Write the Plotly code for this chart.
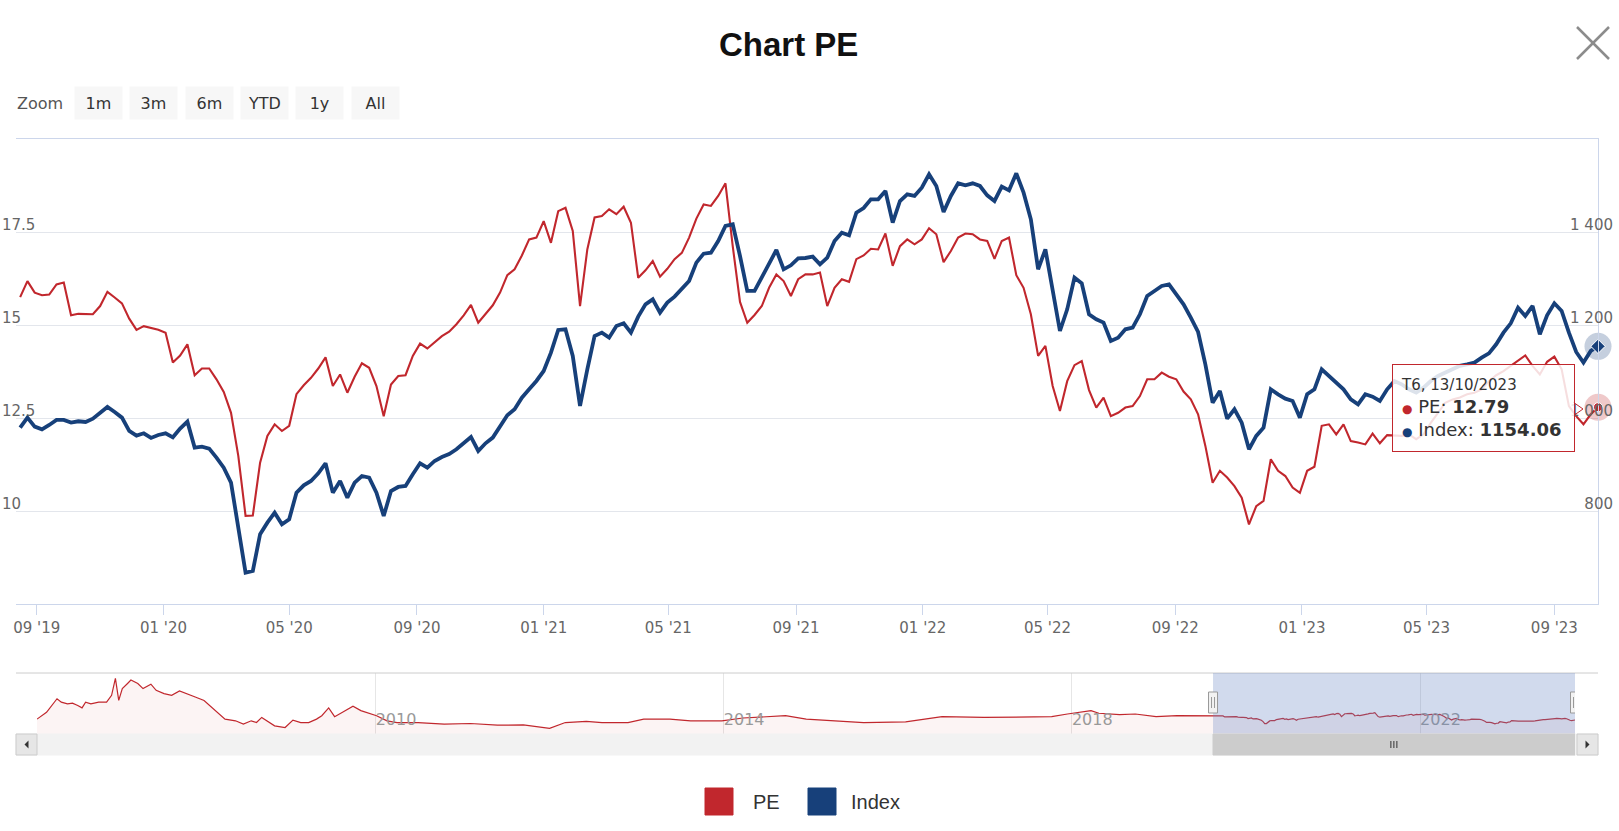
import pandas as pd
import plotly.graph_objects as go

W, H = 1619, 831

# ---------------- data ----------------
last_date = "2023-10-13"
n_weeks = 218
view_start = "2019-08-12"

pe_values = [
    15.75, 16.18, 15.87, 15.80, 15.82, 16.09, 16.14, 15.26, 15.30, 15.30,
    15.29, 15.51, 15.89, 15.74, 15.58, 15.17, 14.87, 14.97, 14.93, 14.87,
    14.79, 13.99, 14.18, 14.48, 13.65, 13.83, 13.83, 13.54, 13.20, 12.64,
    11.48, 9.87, 9.88, 11.30, 12.02, 12.33, 12.15, 12.29, 13.14, 13.38,
    13.58, 13.83, 14.13, 13.36, 13.67, 13.18, 13.61, 13.97, 13.85, 13.36,
    12.55, 13.40, 13.63, 13.65, 14.17, 14.50, 14.37, 14.54, 14.70, 14.82,
    15.02, 15.26, 15.54, 15.06, 15.31, 15.53, 15.87, 16.34, 16.50, 16.87,
    17.30, 17.35, 17.79, 17.21, 18.06, 18.15, 17.53, 15.51, 17.03, 17.89,
    17.93, 18.11, 17.98, 18.18, 17.75, 16.27, 16.47, 16.72, 16.30, 16.51,
    16.77, 16.94, 17.35, 17.86, 18.24, 18.20, 18.47, 18.81, 17.12, 15.62,
    15.06, 15.27, 15.51, 16.00, 16.36, 16.18, 15.78, 16.23, 16.36, 16.36,
    16.41, 15.51, 16.00, 16.23, 16.16, 16.77, 16.87, 17.05, 17.03, 17.46,
    16.59, 17.12, 17.30, 17.17, 17.30, 17.60, 17.44, 16.69, 16.99, 17.35,
    17.46, 17.44, 17.30, 17.26, 16.78, 17.26, 17.35, 16.34, 16.00, 15.29,
    14.17, 14.44, 13.36, 12.69, 13.49, 13.92, 14.03, 13.25, 12.78, 13.05,
    12.55, 12.64, 12.78, 12.82, 13.09, 13.54, 13.54, 13.72, 13.61, 13.54,
    13.21, 13.00, 12.60, 11.75, 10.76, 11.08, 10.90, 10.67, 10.36, 9.64,
    10.13, 10.27, 11.39, 11.08, 10.94, 10.63, 10.49, 11.08, 11.19, 12.29,
    12.33, 12.06, 12.33, 11.88, 11.84, 11.79, 12.08, 11.82, 12.04, 12.04,
    12.02, 12.06, 11.93, 12.06, 12.37, 12.64, 12.91, 13.00, 13.05, 13.14,
    13.18, 13.27, 13.49, 13.65, 13.76, 13.90, 14.05, 14.18, 13.90, 13.67,
    14.01, 14.15, 13.81, 12.82, 12.55, 12.33, 12.60, 12.79,
]

index_values = [
    979.3, 1000.8, 981.4, 975.7, 985.0, 995.8, 995.8, 990.0, 993.0, 991.5,
    998.6, 1010.0, 1023.7, 1013.0, 1000.8, 972.1, 962.1, 967.1, 957.1, 963.5,
    967.1, 958.5, 977.1, 992.2, 936.3, 938.4, 934.1, 914.8, 893.3, 861.0,
    760.7, 667.5, 671.0, 750.0, 775.0, 796.5, 771.4, 782.2, 839.5, 855.3,
    864.6, 881.1, 902.6, 839.5, 864.6, 828.7, 861.0, 875.3, 871.8, 839.5,
    789.3, 843.1, 851.7, 853.8, 878.9, 902.6, 893.3, 907.6, 916.2, 922.6,
    932.7, 944.9, 959.2, 929.1, 945.6, 957.8, 982.9, 1005.8, 1018.7, 1043.8,
    1061.7, 1079.6, 1101.1, 1140.5, 1189.3, 1190.7, 1133.4, 1025.9, 1104.7, 1176.4,
    1183.6, 1172.8, 1197.9, 1203.6, 1183.6, 1218.0, 1244.5, 1255.2, 1226.6, 1248.1,
    1261.0, 1276.7, 1294.7, 1334.1, 1353.4, 1355.6, 1380.7, 1413.0, 1416.5, 1348.4,
    1273.2, 1273.2, 1301.8, 1330.5, 1361.3, 1319.8, 1328.4, 1343.4, 1344.1, 1347.0,
    1330.5, 1344.8, 1380.7, 1398.6, 1392.9, 1441.6, 1451.6, 1470.3, 1470.3, 1488.2,
    1420.1, 1466.7, 1481.0, 1477.5, 1495.4, 1524.0, 1499.0, 1443.0, 1477.5, 1504.7,
    1500.4, 1504.7, 1499.0, 1478.9, 1466.7, 1497.5, 1489.6, 1526.2, 1484.6, 1427.3,
    1319.8, 1362.8, 1269.6, 1187.1, 1233.7, 1301.8, 1289.6, 1223.0, 1212.2, 1205.1,
    1165.6, 1172.8, 1190.7, 1194.3, 1223.0, 1262.4, 1273.2, 1283.9, 1287.5, 1266.0,
    1244.5, 1215.8, 1185.0, 1115.5, 1033.0, 1058.1, 998.6, 1018.7, 990.0, 932.7,
    961.4, 979.3, 1061.7, 1051.0, 1041.6, 1036.6, 1000.8, 1051.0, 1061.7, 1104.7,
    1090.4, 1074.6, 1061.7, 1040.2, 1029.4, 1051.0, 1045.9, 1036.6, 1061.7, 1079.6,
    1072.5, 1061.7, 1054.5, 1065.3, 1079.6, 1090.4, 1097.8, 1104.7, 1112.3, 1115.5,
    1119.1, 1129.8, 1139.1, 1158.5, 1183.6, 1203.6, 1237.3, 1219.4, 1240.9, 1180.0,
    1220.8, 1246.7, 1230.2, 1183.6, 1142.0, 1119.1, 1144.1, 1154.06,
]

# long PE history shown only in the navigator (before the selected window)
nav_hist_dates = [
    "2006-02-10", "2006-03-22", "2006-05-05", "2006-05-23", "2006-06-18", "2006-07-09",
    "2006-07-31", "2006-08-18", "2006-09-02", "2006-09-24", "2006-10-27", "2006-11-29",
    "2006-12-20", "2007-01-05", "2007-01-19", "2007-02-03", "2007-02-25", "2007-03-11",
    "2007-04-09", "2007-05-01", "2007-06-03", "2007-06-25", "2007-07-28", "2007-08-29",
    "2007-10-01", "2007-11-03", "2007-12-06", "2008-01-12", "2008-02-14", "2008-03-18",
    "2008-04-09", "2008-05-23", "2008-06-25", "2008-07-28", "2008-08-19", "2008-09-10",
    "2008-10-01", "2008-11-03", "2008-12-17", "2009-01-19", "2009-02-21", "2009-03-26",
    "2009-04-28", "2009-05-20", "2009-06-18", "2009-07-13", "2009-08-15", "2009-09-28",
    "2009-10-31", "2009-11-22", "2010-01-05", "2010-02-18", "2010-04-01", "2010-06-28",
    "2010-10-16", "2011-02-03", "2011-05-27", "2011-09-13", "2012-01-01", "2012-03-07",
    "2012-06-03", "2012-08-08", "2012-11-25", "2013-01-30", "2013-05-20", "2013-08-15",
    "2013-12-24", "2014-03-22", "2014-05-30", "2014-09-17", "2014-12-13", "2015-02-13",
    "2015-03-28", "2015-08-11", "2016-02-03", "2016-07-05", "2016-12-28", "2017-05-30",
    "2017-10-08", "2017-12-13", "2018-01-26", "2018-03-22", "2018-04-24", "2018-06-07",
    "2018-07-20", "2018-09-24", "2018-12-20", "2019-03-18", "2019-06-14",
]
nav_hist_pe = [
    13.5, 19.1, 30.2, 27.4, 26.0, 26.6,
    24.6, 22.7, 27.4, 26.0, 27.4, 27.4,
    33.0, 46.9, 28.8, 38.5, 42.7, 45.5,
    42.7, 38.5, 42.1, 37.1, 34.4, 33.0,
    36.6, 33.8, 31.6, 28.8, 23.2, 17.7,
    13.5, 12.1, 9.4, 12.1, 10.7, 14.9,
    12.1, 8.0, 6.6, 12.7, 10.7, 10.7,
    13.5, 16.3, 22.7, 15.5, 19.1, 24.1,
    20.5, 19.1, 16.3, 12.1, 10.7, 10.7,
    9.4, 9.9, 8.5, 8.8, 6.0, 10.7,
    11.6, 10.7, 10.7, 13.5, 13.5, 12.1,
    12.1, 14.4, 14.9, 16.3, 13.5, 12.7,
    12.1, 10.7, 11.3, 15.5, 14.9, 14.9,
    15.5, 17.7, 19.1, 20.5, 18.3, 17.7,
    17.1, 17.7, 15.5, 16.3, 16.3,
]

pe_ticks = [10, 12.5, 15, 17.5]
index_ticks = [800, 1000, 1200, 1400]
zoom_buttons = ["1m", "3m", "6m", "YTD", "1y", "All"]
series_names = ["PE", "Index"]

RED = "#c1272d"
BLUE = "#17407a"

dates = pd.date_range(end=last_date, periods=n_weeks, freq="7D")
date_str = [d.strftime("%Y-%m-%d") for d in dates]
nav_dates = nav_hist_dates + date_str
nav_pe = nav_hist_pe + pe_values
mid_date = (dates[0] + (dates[-1] - dates[0]) / 2).strftime("%Y-%m-%d")


def X(p):
    return p / W


def Y(p):
    return 1 - p / H


TICK_FONT = dict(family="DejaVu Sans", size=15, color="#666666")

fig = go.Figure()

fig.add_trace(go.Scatter(
    x=dates, y=pe_values, name=series_names[0], mode="lines",
    line=dict(color=RED, width=2.1), xaxis="x", yaxis="y", showlegend=False,
))
fig.add_trace(go.Scatter(
    x=dates, y=index_values, name=series_names[1], mode="lines",
    line=dict(color=BLUE, width=3.8), xaxis="x", yaxis="y2", showlegend=False,
))
# hover halos on the last point
fig.add_trace(go.Scatter(
    x=[dates[-1]], y=[pe_values[-1]], mode="markers", xaxis="x", yaxis="y",
    marker=dict(size=27, color="rgba(193,39,45,0.25)"), cliponaxis=False,
    showlegend=False,
))
fig.add_trace(go.Scatter(
    x=[dates[-1]], y=[pe_values[-1]], mode="markers", xaxis="x", yaxis="y",
    marker=dict(size=9, color=RED, line=dict(color="white", width=1)),
    cliponaxis=False, showlegend=False,
))
fig.add_trace(go.Scatter(
    x=[dates[-1]], y=[index_values[-1]], mode="markers", xaxis="x", yaxis="y2",
    marker=dict(size=27, color="rgba(23,64,122,0.25)"), cliponaxis=False,
    showlegend=False,
))
fig.add_trace(go.Scatter(
    x=[dates[-1]], y=[index_values[-1]], mode="markers", xaxis="x", yaxis="y2",
    marker=dict(size=11, symbol="diamond", color=BLUE, line=dict(color="white", width=1)),
    cliponaxis=False, showlegend=False,
))
# navigator series
fig.add_trace(go.Scatter(
    x=nav_dates, y=nav_pe, mode="lines", xaxis="x2", yaxis="y3",
    line=dict(color=RED, width=1.2), fill="tozeroy",
    fillcolor="rgba(193,39,45,0.05)", showlegend=False,
))

shapes = []
# navigator outline
shapes.append(dict(type="line", xref="paper", yref="paper", x0=X(16), x1=X(1598),
                   y0=Y(673), y1=Y(673), line=dict(color="#cccccc", width=1)))
# navigator mask over selected range
shapes.append(dict(type="rect", xref="x2", yref="paper", x0=dates[0], x1=dates[-1],
                   y0=Y(734), y1=Y(673), fillcolor="rgba(102,133,194,0.3)",
                   line=dict(width=0), layer="above"))
# scrollbar track
shapes.append(dict(type="rect", xref="paper", yref="paper", x0=X(16), x1=X(1598),
                   y0=Y(755), y1=Y(734), fillcolor="#f2f2f2",
                   line=dict(color="#f2f2f2", width=1)))
# scrollbar thumb
shapes.append(dict(type="rect", xref="x2", yref="paper", x0=dates[0], x1=dates[-1],
                   y0=Y(755), y1=Y(734), fillcolor="#cccccc",
                   line=dict(color="#cccccc", width=1)))
# scrollbar buttons
for a, b in [(16, 37), (1577, 1598)]:
    shapes.append(dict(type="rect", xref="paper", yref="paper", x0=X(a), x1=X(b),
                       y0=Y(755), y1=Y(734), fillcolor="#e6e6e6",
                       line=dict(color="#cccccc", width=1)))
shapes.append(dict(type="path", xref="paper", yref="paper",
                   path=f"M {X(28.5)} {Y(740.5)} L {X(28.5)} {Y(748.5)} L {X(24.5)} {Y(744.5)} Z",
                   fillcolor="#333333", line=dict(width=0)))
shapes.append(dict(type="path", xref="paper", yref="paper",
                   path=f"M {X(1585.5)} {Y(740.5)} L {X(1585.5)} {Y(748.5)} L {X(1589.5)} {Y(744.5)} Z",
                   fillcolor="#333333", line=dict(width=0)))
# scrollbar rifles
for off in (-3, 0, 3):
    shapes.append(dict(type="line", xref="x2", yref="paper", xsizemode="pixel",
                       xanchor=mid_date, x0=off, x1=off, y0=Y(748), y1=Y(741),
                       line=dict(color="#333333", width=1)))
# navigator handles
for d in (dates[0], dates[-1]):
    ds = d.strftime("%Y-%m-%d")
    shapes.append(dict(type="rect", xref="x2", yref="paper", xsizemode="pixel",
                       xanchor=ds, x0=-4.5, x1=4.5, y0=Y(713), y1=Y(692),
                       fillcolor="#f2f2f2", line=dict(color="#999999", width=1),
                       layer="above"))
    for off in (-1.5, 1.5):
        shapes.append(dict(type="line", xref="x2", yref="paper", xsizemode="pixel",
                           xanchor=ds, x0=off, x1=off, y0=Y(708), y1=Y(697),
                           line=dict(color="#999999", width=1), layer="above"))
# close "X"
shapes.append(dict(type="line", xref="paper", yref="paper", x0=X(1577), x1=X(1609),
                   y0=Y(27), y1=Y(59), line=dict(color="#8c8c8c", width=2.5)))
shapes.append(dict(type="line", xref="paper", yref="paper", x0=X(1609), x1=X(1577),
                   y0=Y(27), y1=Y(59), line=dict(color="#8c8c8c", width=2.5)))
# tooltip pointer
shapes.append(dict(type="path", xref="paper", yref="paper",
                   path=f"M {X(1573)} {Y(402)} L {X(1583)} {Y(409)} L {X(1573)} {Y(416)}",
                   fillcolor="rgba(255,255,255,0.0)", line=dict(color=RED, width=1),
                   layer="above"))
# legend swatches
for (a, b), col in zip([(705, 733), (808, 836)], [RED, BLUE]):
    shapes.append(dict(type="rect", xref="paper", yref="paper", x0=X(a), x1=X(b),
                       y0=Y(815), y1=Y(788), fillcolor=col, line=dict(color=col, width=1)))

annotations = []
annotations.append(dict(text="<b>Chart PE</b>", xref="paper", yref="paper",
                        x=X(788), y=Y(45), xanchor="center", yanchor="middle",
                        showarrow=False,
                        font=dict(family="Liberation Sans", size=33, color="#111111")))
annotations.append(dict(text="Zoom", xref="paper", yref="paper", x=X(15), y=Y(103),
                        xanchor="left", yanchor="middle", showarrow=False,
                        font=dict(family="DejaVu Sans", size=16, color="#555555")))
btn_centers = [98, 153.5, 209, 264, 319.5, 375.5]
for lbl, cx in zip(zoom_buttons, btn_centers):
    annotations.append(dict(text=lbl, xref="paper", yref="paper", x=X(cx), y=Y(103),
                            xanchor="center", yanchor="middle", showarrow=False,
                            width=47, height=32, borderpad=0, bgcolor="#f7f7f7",
                            font=dict(family="DejaVu Sans", size=16, color="#333333")))
# legend labels
annotations.append(dict(text=series_names[0], xref="paper", yref="paper", x=X(751), y=Y(802),
                        xanchor="left", yanchor="middle", showarrow=False,
                        font=dict(family="Liberation Sans", size=20, color="#333333")))
annotations.append(dict(text=series_names[1], xref="paper", yref="paper", x=X(849), y=Y(802),
                        xanchor="left", yanchor="middle", showarrow=False,
                        font=dict(family="Liberation Sans", size=20, color="#333333")))
# tooltip
last = dates[-1]
tip = (f"<span style='font-size:15px'>T{last.weekday() + 2}, {last.strftime('%d/%m/%Y')}</span><br>"
       f"<span style='color:{RED};font-size:12px'>●</span> {series_names[0]}: <b>{pe_values[-1]:.2f}</b><br>"
       f"<span style='color:{BLUE};font-size:12px'>●</span> {series_names[1]}: <b>{index_values[-1]:.2f}</b>")
annotations.append(dict(text=tip, xref="paper", yref="paper", x=X(1392), y=Y(364),
                        xanchor="left", yanchor="top", showarrow=False, align="left",
                        width=165, height=70, borderpad=8, borderwidth=1,
                        bordercolor=RED, bgcolor="rgba(255,255,255,0.85)",
                        font=dict(family="DejaVu Sans", size=18, color="#333333")))

fig.update_layout(
    template="none",
    width=W, height=H, autosize=False,
    margin=dict(l=0, r=0, t=0, b=0, pad=0),
    paper_bgcolor="white", plot_bgcolor="white",
    separators=". ",
    hovermode=False,
    showlegend=False,
    xaxis=dict(
        domain=[X(16), X(1598)], anchor="y", type="date",
        range=[view_start, last_date],
        tickformat="%m '%y", dtick="M4", tick0="2019-09-01",
        ticks="outside", ticklen=10, tickcolor="#ccd6eb", tickwidth=1,
        showline=True, linecolor="#ccd6eb", linewidth=1, mirror=True,
        showgrid=False, zeroline=False, tickfont=TICK_FONT, automargin=False,
        fixedrange=True,
    ),
    yaxis=dict(
        domain=[Y(604), Y(139)], anchor="x", range=[7.5, 20],
        tickvals=pe_ticks, showgrid=True, gridcolor="#e3e6ec", gridwidth=1,
        zeroline=False, showline=False, ticks="",
        ticklabelposition="inside", ticklabelstandoff=-17, ticklabelshift=-7,
        tickfont=TICK_FONT, automargin=False, fixedrange=True,
    ),
    yaxis2=dict(
        overlaying="y", side="right", anchor="x", range=[600, 1600],
        tickvals=index_ticks, separatethousands=True, showgrid=False,
        zeroline=False, showline=True, linecolor="#ccd6eb", ticks="",
        ticklabelposition="inside", ticklabelstandoff=-15, ticklabelshift=-7,
        tickfont=TICK_FONT, automargin=False, fixedrange=True,
    ),
    xaxis2=dict(
        domain=[X(37), X(1575)], anchor="y3", type="date",
        range=[nav_hist_dates[0], last_date],
        dtick="M48", tick0="2010-01-01", tickformat="%Y",
        showgrid=True, gridcolor="#e6e6e6", ticks="", showline=False,
        zeroline=False, ticklabelposition="inside right",
        tickfont=dict(family="DejaVu Sans", size=16, color="#999999"),
        automargin=False, fixedrange=True,
    ),
    yaxis3=dict(
        domain=[Y(734), Y(673)], anchor="x2", range=[1.3, 51.3],
        visible=False, fixedrange=True,
    ),
    shapes=shapes,
    annotations=annotations,
)

fig.write_html("out.html", config={"displayModeBar": False},
               post_script="document.body.style.margin='0';")
